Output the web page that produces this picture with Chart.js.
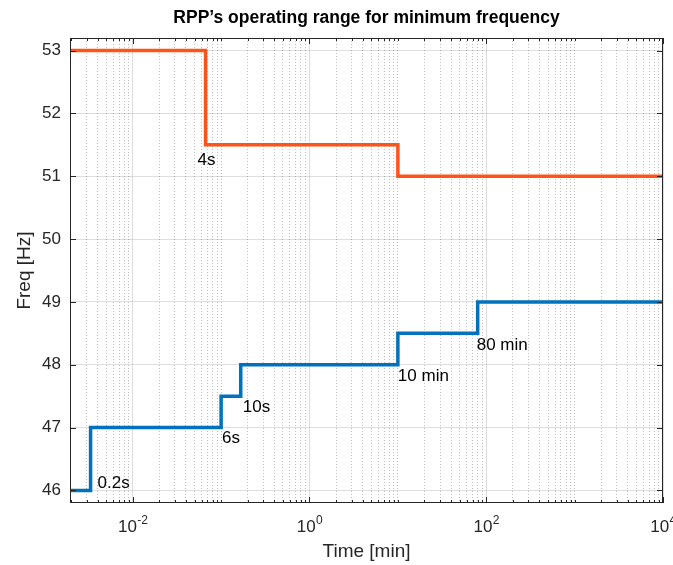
<!DOCTYPE html>
<html>
<head>
<meta charset="utf-8">
<script src="https://cdn.jsdelivr.net/npm/chart.js@4.4.1/dist/chart.umd.min.js"></script>
<style>
  html, body { margin: 0; padding: 0; background: #fff; }
  #wrap { width: 673px; height: 565px; }
</style>
</head>
<body>
<div id="wrap"><canvas id="freqChart" width="673" height="565"></canvas></div>
<script>
const xMin = 0.00195;
const xMax = 10000;
const yMin = 45.8;
const yMax = 53.2;

// time [min] where each frequency level starts
const upperTimes = [xMin, 4 / 60, 10, xMax];
const upperFreq = [53, 51.5, 51, 51];
const lowerTimes = [xMin, 0.2 / 60, 6 / 60, 10 / 60, 10, 80, xMax];
const lowerFreq = [46, 47, 47.5, 48, 48.5, 49, 49];

const stepLabels = ['4s', '0.2s', '6s', '10s', '10 min', '80 min'];
const stepLabelTimes = [4 / 60, 0.2 / 60, 6 / 60, 10 / 60, 10, 80];
const stepLabelFreq = [51.5, 46, 47, 47.5, 48, 48.5];

const xTickValues = [1e-2, 1, 1e2, 1e4];
const xTickExp = ['-2', '0', '2', '4'];
const yTickValues = [46, 47, 48, 49, 50, 51, 52, 53];

const FONT = '"Liberation Sans", Arial, Helvetica, sans-serif';
const AXIS = 'rgb(38,38,38)';

// every 1..9 x 10^k inside the range, for the minor grid
const minorTicks = [];
for (let k = -3; k <= 4; k++) {
  for (let n = 1; n <= 9; n++) {
    const v = n * Math.pow(10, k);
    if (v >= xMin && v <= xMax) minorTicks.push(v);
  }
}
const isMajor = v => xTickValues.some(t => Math.abs(t - v) / t < 1e-6);

const pts = (xs, ys) => xs.map((x, i) => ({ x: x, y: ys[i] }));

// label offsets from their step corner, px
const labelShift = [[-8, 15], [7, -7], [1, 11], [2, 11], [0, 12], [-1, 12]];

const matlabAxes = {
  id: 'matlabAxes',
  afterDraw(chart) {
    const { ctx, chartArea: a } = chart;
    const xs = chart.scales.x, ys = chart.scales.y;
    ctx.save();

    // box
    ctx.strokeStyle = AXIS;
    ctx.lineWidth = 1;
    ctx.strokeRect(a.left + 0.5, a.top + 0.5, a.right - a.left - 1, a.bottom - a.top - 1);

    // inward ticks
    ctx.beginPath();
    minorTicks.forEach(v => {
      const px = Math.round(xs.getPixelForValue(v)) + 0.5;
      const len = isMajor(v) ? 6 : 3;
      ctx.moveTo(px, a.bottom); ctx.lineTo(px, a.bottom - len);
      ctx.moveTo(px, a.top); ctx.lineTo(px, a.top + len);
    });
    yTickValues.forEach(v => {
      const py = Math.round(ys.getPixelForValue(v)) + 0.5;
      ctx.moveTo(a.left, py); ctx.lineTo(a.left + 6, py);
      ctx.moveTo(a.right, py); ctx.lineTo(a.right - 6, py);
    });
    ctx.stroke();

    // x tick labels as 10^n
    ctx.fillStyle = AXIS;
    ctx.textBaseline = 'alphabetic';
    ctx.textAlign = 'left';
    xTickValues.forEach((v, i) => {
      const px = xs.getPixelForValue(v);
      ctx.font = '17px ' + FONT;
      const bw = ctx.measureText('10').width;
      ctx.font = '12px ' + FONT;
      const ew = ctx.measureText(xTickExp[i]).width;
      const x0 = px - (bw + ew) / 2;
      ctx.font = '17px ' + FONT;
      ctx.fillText('10', x0, a.bottom + 29);
      ctx.font = '12px ' + FONT;
      ctx.fillText(xTickExp[i], x0 + bw + 0.5, a.bottom + 21);
    });

    // title
    ctx.fillStyle = '#000';
    ctx.textAlign = 'center';
    ctx.textBaseline = 'middle';
    ctx.font = 'bold 17.5px ' + FONT;
    ctx.fillText('RPP\u2019s operating range for minimum frequency', (a.left + a.right) / 2, 18);

    // step annotations
    ctx.font = '17px ' + FONT;
    ctx.textAlign = 'left';
    stepLabels.forEach((t, i) => {
      const px = xs.getPixelForValue(stepLabelTimes[i]) + labelShift[i][0];
      const py = ys.getPixelForValue(stepLabelFreq[i]) + labelShift[i][1];
      ctx.fillText(t, px, py);
    });
    ctx.restore();
  }
};

new Chart(document.getElementById('freqChart').getContext('2d'), {
  type: 'line',
  data: {
    datasets: [
      {
        label: 'upper',
        data: pts(upperTimes, upperFreq),
        borderColor: '#FF5418',
        borderWidth: 3.5,
        stepped: 'before',
        pointRadius: 0,
        borderJoinStyle: 'miter',
        fill: false
      },
      {
        label: 'lower',
        data: pts(lowerTimes, lowerFreq),
        borderColor: '#0072BD',
        borderWidth: 3.5,
        stepped: 'before',
        pointRadius: 0,
        borderJoinStyle: 'miter',
        fill: false
      }
    ]
  },
  options: {
    responsive: false,
    animation: false,
    devicePixelRatio: 1,
    layout: { padding: { top: 38, right: 10, left: 0, bottom: 0 } },
    plugins: {
      legend: { display: false },
      tooltip: { enabled: false },
      title: { display: false }
    },
    scales: {
      x: {
        type: 'logarithmic',
        min: xMin,
        max: xMax,
        afterBuildTicks: s => { s.ticks = minorTicks.map(v => ({ value: v })); },
        afterFit: s => { s.height = 62; },
        ticks: { display: false },
        grid: {
          drawTicks: false,
          lineWidth: 1,
          color: c => (c.tick && isMajor(c.tick.value)) ? 'rgba(0,0,0,0.13)' : 'rgba(0,0,0,0.25)'
        },
        border: {
          display: false,
          dash: c => (c.tick && !isMajor(c.tick.value)) ? [1, 2] : []
        },
        title: {
          display: true,
          text: 'Time [min]',
          color: AXIS,
          font: { family: FONT, size: 19 },
          padding: { top: 0, bottom: 2 }
        }
      },
      y: {
        type: 'linear',
        min: yMin,
        max: yMax,
        afterBuildTicks: s => { s.ticks = yTickValues.map(v => ({ value: v })); },
        afterFit: s => { s.width = 70; },
        ticks: {
          color: AXIS,
          padding: 9,
          font: { family: FONT, size: 17 },
          callback: v => v
        },
        grid: {
          drawTicks: false,
          lineWidth: 1,
          color: 'rgba(0,0,0,0.13)'
        },
        border: { display: false },
        title: {
          display: true,
          text: 'Freq [Hz]',
          color: AXIS,
          font: { family: FONT, size: 19 },
          padding: { top: 13, bottom: 0 }
        }
      }
    }
  },
  plugins: [matlabAxes]
});
</script>
</body>
</html>
